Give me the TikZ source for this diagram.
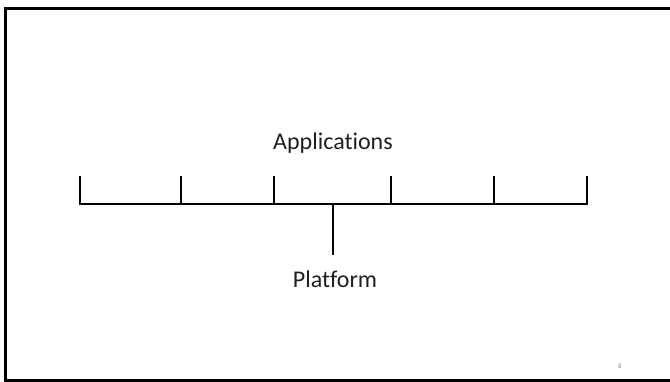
\documentclass[tikz,border=0pt]{standalone}
\usepackage{fontspec}
\setmainfont[Ligatures=NoCommon]{Carlito}
\begin{document}
\begin{tikzpicture}[x=1pt,y=-1pt,
  conn/.style={line width=2pt,black},
  frame/.style={line width=2.4pt,black},
  lbl/.style={font=\fontsize{24}{28}\selectfont,inner sep=0pt,anchor=base,text=black!88},
  pnum/.style={font=\fontsize{7}{8}\selectfont,inner sep=0pt,text=black!45}]
\useasboundingbox (0,0) rectangle (670,382);
% slide frame
\draw[frame] (670,8.5) -- (5.5,8.5) -- (5.5,380.5) -- (670,380.5);
% bar coordinates
\coordinate (L) at (79.5,203.7);
\coordinate (R) at (587,203.7);
\coordinate (t1) at (79.5,176.5);
\coordinate (t2) at (180.5,176.5);
\coordinate (t3) at (273.5,176.5);
\coordinate (t4) at (391,176.5);
\coordinate (t5) at (494,176.5);
\coordinate (t6) at (587,176.5);
\coordinate (b2) at (180.5,203.7);
\coordinate (b3) at (273.5,203.7);
\coordinate (b4) at (391,203.7);
\coordinate (b5) at (494,203.7);
\coordinate (s0) at (333,203.7);
\coordinate (s1) at (333,255);
\draw[conn] (t1) -- (L) -- (R) -- (t6);
\foreach \i in {2,3,4,5} \draw[conn] (t\i) -- (b\i);
\draw[conn] (s0) -- (s1);
\node[lbl] (apps) at (333,150) {Applications};
\node[lbl] (plat) at (335,288) {Platform};
\node[pnum] (pg) at (620,366) {8};
\end{tikzpicture}
\end{document}
